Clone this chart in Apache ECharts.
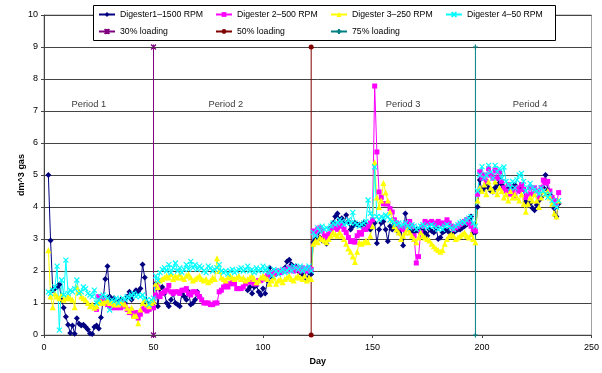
<!DOCTYPE html>
<html>
<head>
<meta charset="utf-8">
<title>Digester gas</title>
<script src="https://cdn.jsdelivr.net/npm/echarts@6/dist/echarts.min.js"></script>
<style>
    html, body { margin: 0; padding: 0; background: #fff; }
    #main { width: 602px; height: 373px; }
</style>
</head>
<body>
<div id="main"></div>
<script>
// 天数：第2天到第235天，每天一个读数
var firstDay = 2, lastDay = 235;
var days = [];
for (var d = firstDay; d <= lastDay; d++) days.push(d);

// Digester1 -- 1500 RPM (null = 无读数)
var digester1 = [
    5.0, 2.95, 1.4, 1.45, 1.5, 1.58, 1.1, 0.85, 0.57, 0.32,
    0.06, 0.3, 0.04, 0.52, 0.35, 0.3, 0.32, 0.25, 0.17, 0.05,
    0.03, 0.25, 0.3, 0.2, 0.55, 1.1, 1.75, 2.15, 1.2, 1.1,
    1.15, 1.0, 1.05, 1.1, 1.0, 1.0, 1.2, 1.35, 1.1, 1.3,
    1.4, 1.35, 1.45, 2.2, 1.8, 1.0, 0.85, 0.95, 1.0, 1.6,
    0.9, 1.45, 1.5, 1.3, 1.0, 0.9, 1.1, 1.3, 1.0, 0.95,
    0.9, 1.3, 1.2, 1.1, 1.35, 0.95, 1.0, 1.1, 1.35, 1.2,
    null, null, null, null, null, null, null, null, null, null,
    null, null, null, null, null, null, null, null, null, null,
    null, 1.4, 1.5, 1.3, 1.5, 1.55, 1.35, 1.25, 1.45, 1.3,
    1.7, 2.1, 1.8, 2.0, 1.9, 2.0, 1.95, 2.0, 2.1, 2.3,
    2.35, 2.2, 2.1, 2.15, 2.0, 1.95, 1.9, 2.0, 1.75, 1.95,
    1.9, 2.9, 3.0, 3.2, 3.05, 2.95, 3.0, 2.85, 3.1, 3.35,
    3.5, 3.7, 3.8, 3.6, 3.65, 3.5, 3.75, 3.55, 3.3, 3.4,
    3.5, 3.45, 3.45, 3.4, 3.5, 3.45, 3.4, 3.3, 3.55, 3.5,
    2.87, 3.3, 3.5, 3.55, 3.3, 2.93, 3.4, 3.3, 3.45, 3.35,
    3.2, 3.3, 2.8, 3.8, 3.4, 3.3, 3.25, 3.2, 3.3, 3.25,
    3.35, 3.3, 3.2, 3.1, 3.3, 3.25, 3.2, 3.35, 3.0, 3.05,
    3.2, 3.25, 3.3, 3.2, 3.1, 3.2, 3.25, 3.3, 3.3, 3.35,
    3.4, 3.45, 3.6, 3.7, 3.2, 3.2, 4.0, 4.84, 4.5, 4.6,
    4.74, 4.6, 4.5, 4.48, 4.6, 4.7, 4.84, 4.7, 4.6, 4.55,
    4.6, 4.53, 4.6, 4.69, 4.6, 4.5, 4.55, 4.53, 4.17, 4.1,
    4.11, 3.97, 3.9, 4.06, 4.2, 4.3, 4.6, 5.0, 4.53, 4.4,
    4.27, 3.96, 3.7, 4.1
];

// Digester 2 -- 500 RPM
var digester2 = [
    null, null, null, null, null, null, null, null, null, null,
    null, null, null, null, null, null, null, null, null, null,
    null, null, 0.8, 1.2, 1.15, 1.1, 1.0, 0.95, 0.9, 0.85,
    0.9, 0.85, 0.95, 0.85, 1.0, 0.9, 0.8, 0.7, 0.75, 0.6,
    0.7, 0.53, 0.65, 0.8, 0.85, 0.75, 0.8, 0.9, 0.85, 1.25,
    1.5, 1.2, 1.3, 1.35, 1.4, 1.55, 1.35, 1.3, 1.35, 1.35,
    1.3, 1.4, 1.4, 1.45, 1.3, 1.25, 1.35, 1.35, 1.3, 1.2,
    1.1, 1.0, 1.0, 1.0, 0.95, 0.95, 1.0, 1.0, 1.35, 1.4,
    1.5, 1.55, 1.5, 1.6, 1.65, 1.6, 1.45, 1.45, 1.45, 1.5,
    1.6, 1.65, 1.7, 1.65, 1.6, 1.6, 1.7, 1.7, 1.75, 1.8,
    1.85, 1.9, 1.95, 1.9, 1.95, 2.0, 1.95, 2.0, 2.05, 2.0,
    2.1, 2.05, 2.0, 2.1, 2.05, 2.0, 2.1, 2.05, 2.0, 2.1,
    2.05, 3.25, 3.2, 3.3, 3.35, 3.25, 3.1, 3.05, 3.15, 3.3,
    3.4, 3.35, 3.3, 3.45, 3.4, 3.3, 3.2, 3.05, 2.92, 2.95,
    2.9, 3.1, 3.2, 3.15, 3.3, 3.3, 3.4, 3.5, 3.6, 7.78,
    5.72, 4.47, 4.3, 4.1, 4.1, 4.1, 3.95, 3.84, 3.6, 3.5,
    3.4, 3.35, 3.3, 3.45, 3.5, 3.55, 3.4, 3.1, 2.25, 2.45,
    3.2, 3.4, 3.55, 3.5, 3.5, 3.55, 3.5, 3.45, 3.55, 3.5,
    3.45, 3.5, 3.6, 3.5, 3.4, 3.3, 3.35, 3.4, 3.45, 3.5,
    3.55, 3.6, 3.5, 3.4, 3.3, 3.25, 4.4, 5.1, 4.9, 5.0,
    4.8, 5.2, 5.0, 4.9, 5.15, 4.9, 5.1, 4.8, 4.6, 4.5,
    4.7, 4.4, 4.5, 4.35, 4.6, 4.5, 4.7, 4.55, 4.3, 4.4,
    4.6, 4.4, 4.6, 4.5, 4.3, 4.6, 4.84, 4.75, 4.8, 4.5,
    4.3, 4.2, 4.1, 4.45
];

// Digester 3 -- 250 RPM
var digester3 = [
    2.65, 1.2, 0.87, 1.3, 1.2, 1.15, 1.25, 1.1, 1.15, 1.2,
    1.15, 1.1, 0.87, 1.5, 1.35, 1.2, 1.15, 1.1, 1.0, 0.9,
    0.95, 0.85, 0.9, 1.0, 1.05, 1.0, 1.05, 1.1, 1.0, 1.05,
    0.95, 1.0, 0.95, 1.05, 1.0, 0.95, 0.85, 0.75, 0.85, 0.6,
    0.6, 0.37, 0.8, 1.0, 1.1, 0.95, 0.9, 1.0, 1.05, 1.6,
    1.5, 1.7, 1.75, 1.8, 1.85, 1.8, 1.9, 1.75, 1.85, 1.8,
    1.9, 1.8, 1.75, 1.85, 1.9, 1.8, 1.7, 1.75, 1.8, 1.85,
    1.75, 1.7, 1.75, 1.65, 1.7, 1.8, 1.75, 2.4, 2.0, 1.8,
    1.75, 1.7, 1.8, 1.85, 1.8, 1.75, 1.8, 1.85, 1.75, 1.8,
    1.7, 1.75, 1.8, 1.85, 1.75, 1.65, 1.7, 1.8, 1.85, 1.8,
    1.75, 1.6, 1.7, 1.8, 1.6, 1.7, 1.75, 1.65, 1.75, 1.8,
    1.85, 1.75, 1.7, 1.8, 1.85, 1.8, 1.75, 1.85, 1.7, 1.8,
    1.75, 2.85, 2.95, 2.9, 3.05, 3.0, 2.95, 2.9, 3.0, 3.1,
    3.2, 3.15, 3.1, 3.2, 3.1, 3.0, 2.85, 2.7, 2.6, 2.45,
    2.28, 2.6, 2.9, 2.85, 2.9, 2.95, 2.9, 3.1, 3.4, 5.4,
    4.3, 4.0, 4.2, 4.75, 4.45, 4.2, 3.85, 3.6, 3.4, 3.3,
    3.2, 3.0, 3.1, 3.2, 3.3, 3.2, 3.1, 3.0, 2.9, 3.05,
    3.2, 3.1, 3.05, 3.0, 2.95, 2.85, 2.77, 2.7, 2.66, 2.6,
    2.66, 2.85, 3.0, 3.1, 3.15, 3.1, 3.0, 3.05, 3.1, 3.15,
    3.2, 3.1, 3.05, 3.15, 3.0, 2.9, 4.2, 4.6, 4.5, 4.7,
    4.4, 4.8, 4.6, 4.5, 4.8, 4.4, 4.6, 4.5, 4.3, 4.4,
    4.2, 4.5, 4.3, 4.4, 4.3, 4.2, 4.4, 4.1, 3.85, 4.1,
    4.3, 4.2, 4.4, 4.2, 4.0, 4.3, 4.5, 4.4, 4.5, 4.3,
    4.1, 3.8, 3.7, 4.2
];

// Digester 4 -- 50 RPM
var digester4 = [
    1.35, 1.3, 1.4, 1.5, 2.15, 0.15, 1.72, 1.25, 2.34, 1.3,
    1.4, 1.35, 1.45, 1.72, 1.3, 1.35, 1.5, 1.45, 1.3, 1.25,
    1.2, 1.4, 1.0, 1.1, 1.2, 1.25, 1.2, 1.15, 0.78, 1.1,
    1.05, 1.15, 1.0, 1.1, 1.15, 1.1, 1.2, 1.15, 1.25, 1.3,
    1.2, 1.25, 1.2, 1.25, 1.15, 1.1, 0.95, 1.1, 1.15, 1.85,
    1.7, 1.95, 2.05, 2.1, 2.0, 2.2, 1.95, 2.1, 2.25, 2.0,
    2.1, 1.95, 2.05, 2.2, 2.05, 2.3, 2.1, 2.2, 2.05, 2.15,
    2.1, 2.0, 1.95, 2.15, 2.1, 2.0, 2.05, 2.1, 2.2, 2.0,
    1.95, 2.0, 1.9, 2.0, 2.05, 1.95, 2.0, 2.05, 2.1, 2.0,
    2.05, 2.15, 2.0, 2.05, 1.95, 2.1, 2.0, 2.05, 2.15, 2.0,
    2.1, 1.95, 1.85, 2.05, 2.0, 1.9, 2.0, 2.05, 1.95, 2.0,
    2.1, 2.0, 2.15, 2.1, 2.05, 2.15, 2.0, 2.1, 2.05, 2.15,
    2.0, 3.2, 3.1, 3.35, 3.25, 3.4, 3.3, 3.35, 3.3, 3.4,
    3.5, 3.45, 3.5, 3.6, 3.55, 3.45, 3.5, 3.6, 3.5, 3.83,
    3.5, 3.45, 3.4, 3.45, 3.5, 3.55, 4.22, 3.8, 3.7, 5.25,
    3.7, 3.6, 3.7, 3.65, 3.75, 3.7, 3.6, 3.55, 3.5, 3.45,
    3.5, 3.4, 3.45, 3.5, 3.4, 3.35, 3.45, 3.4, 3.3, 3.35,
    3.4, 3.45, 3.4, 3.35, 3.4, 3.45, 3.4, 3.35, 3.3, 3.35,
    3.3, 3.4, 3.45, 3.4, 3.35, 3.3, 3.4, 3.45, 3.5, 3.55,
    3.5, 3.6, 3.65, 3.7, 3.5, 3.4, 4.5, 5.0, 5.26, 4.9,
    5.0, 5.3, 5.1, 4.9, 5.3, 5.1, 5.2, 4.9, 5.25, 4.8,
    4.7, 4.6, 4.8, 4.6, 4.85, 5.0, 5.05, 4.8, 4.5, 4.6,
    4.74, 4.6, 4.55, 4.5, 4.4, 4.6, 4.5, 4.4, 4.3, 4.4,
    4.2, 4.1, 4.0, 4.2
];

// 加载量变化的日期（竖线从0到9）
var loadingNames = ['30% loading', '50% loading', '75% loading'];
var loadingDays = [50, 122, 197];
var loadingRange = [0, 9];

// 阶段标注
var periodNames = ['Period 1', 'Period 2', 'Period 3', 'Period 4'];
var periodDays = [20.5, 83, 164, 222];
var periodLevel = 7.2;

var seriesNames = ['Digester1\u20131500 RPM', 'Digester 2\u2013500 RPM', 'Digester 3\u2013250 RPM', 'Digester 4\u201350 RPM'];

var FONT = 'Liberation Sans';

function toPairs(vals) {
    return days.map(function (d, i) {
        return [d, vals[i] == null ? '-' : vals[i]];
    });
}

var myChart = echarts.init(document.getElementById('main'));

var xMark = 'path://M0,0L8,8M8,0L0,8';
var starMark = 'path://M0,0L8,8M8,0L0,8M4,0L4,8';
var plusMark = 'path://M4,0L4,8M0,4L8,4';

var digesterStyles = [
    { color: '#000080', symbol: 'diamond', size: 6 },
    { color: '#FF00FF', symbol: 'rect', size: 5 },
    { color: '#FFFF00', symbol: 'triangle', size: 6 },
    { color: '#00FFFF', symbol: xMark, size: 5, stroke: true }
];
var loadingStyles = [
    { color: '#800080', symbol: starMark, size: 5, stroke: true },
    { color: '#800000', symbol: 'circle', size: 5 },
    { color: '#008080', symbol: plusMark, size: 5, stroke: true }
];

var series = [];
[digester1, digester2, digester3, digester4].forEach(function (vals, k) {
    var st = digesterStyles[k];
    series.push({
        name: seriesNames[k],
        type: 'line',
        data: toPairs(vals),
        connectNulls: false,
        symbol: st.symbol,
        symbolSize: st.size,
        showAllSymbol: true,
        lineStyle: { color: st.color, width: 1 },
        itemStyle: st.stroke ? { color: st.color, borderColor: st.color, borderWidth: 1.2 } : { color: st.color, borderWidth: 0 }
    });
});
loadingDays.forEach(function (day, k) {
    var st = loadingStyles[k];
    series.push({
        name: loadingNames[k],
        type: 'line',
        data: [[day, loadingRange[0]], [day, loadingRange[1]]],
        symbol: st.symbol,
        symbolSize: st.size,
        lineStyle: { color: st.color, width: 1 },
        itemStyle: st.stroke ? { color: st.color, borderColor: st.color, borderWidth: 1.2 } : { color: st.color, borderWidth: 0 },
        z: 3
    });
});
// 阶段文字
series.push({
    name: 'periods',
    type: 'scatter',
    symbolSize: 0,
    silent: true,
    data: periodNames.map(function (n, i) { return { name: n, value: [periodDays[i], periodLevel] }; }),
    label: {
        show: true,
        position: 'inside',
        formatter: '{b}',
        color: '#000',
        fontSize: 9.3,
        fontFamily: FONT
    }
});

// 图例：两行四列
var legendPos = [
    { name: seriesNames[0], left: 98, top: 10 },
    { name: seriesNames[1], left: 215, top: 10 },
    { name: seriesNames[2], left: 330, top: 10 },
    { name: seriesNames[3], left: 445, top: 10 },
    { name: loadingNames[0], left: 98, top: 27 },
    { name: loadingNames[1], left: 215, top: 27 },
    { name: loadingNames[2], left: 330, top: 27 }
];
var legends = legendPos.map(function (p) {
    return {
        data: [p.name],
        left: p.left,
        top: p.top,
        padding: 0,
        itemWidth: 16,
        itemHeight: 6,
        selectedMode: false,
        textStyle: { fontSize: 8.7, color: '#000', fontFamily: FONT }
    };
});

var option = {
    animation: false,
    backgroundColor: '#fff',
    textStyle: { fontFamily: FONT },
    grid: {
        left: 44,
        right: 8,
        top: 15,
        bottom: 38,
        show: true,
        borderColor: '#a0a0a0',
        borderWidth: 1
    },
    legend: legends,
    graphic: [
        {
            type: 'rect',
            z: 3,
            shape: { x: 93.5, y: 5.5, width: 462, height: 35 },
            style: { fill: '#fff', stroke: '#000', lineWidth: 1 }
        }
    ],
    xAxis: {
        type: 'value',
        min: 0,
        max: 250,
        interval: 50,
        name: 'Day',
        nameLocation: 'middle',
        nameGap: 22,
        nameMoveOverlap: false,
        nameTextStyle: { fontWeight: 'bold', fontSize: 9, color: '#000' },
        axisLine: { lineStyle: { color: '#444', width: 1 } },
        axisTick: { show: true, length: 3, lineStyle: { color: '#444' } },
        axisLabel: { fontSize: 9, color: '#000', margin: 8 },
        splitLine: { show: false }
    },
    yAxis: {
        type: 'value',
        min: 0,
        max: 10,
        interval: 1,
        name: 'dm^3 gas',
        nameLocation: 'middle',
        nameGap: 18,
        nameMoveOverlap: false,
        nameTextStyle: { fontWeight: 'bold', fontSize: 9, color: '#000' },
        axisLine: { show: true, lineStyle: { color: '#444', width: 1 } },
        axisTick: { show: true, length: 3, lineStyle: { color: '#444' } },
        axisLabel: { fontSize: 9, color: '#000', margin: 6 },
        splitLine: { show: true, lineStyle: { color: '#444', width: 1 } }
    },
    series: series
};

myChart.setOption(option);
</script>
</body>
</html>
